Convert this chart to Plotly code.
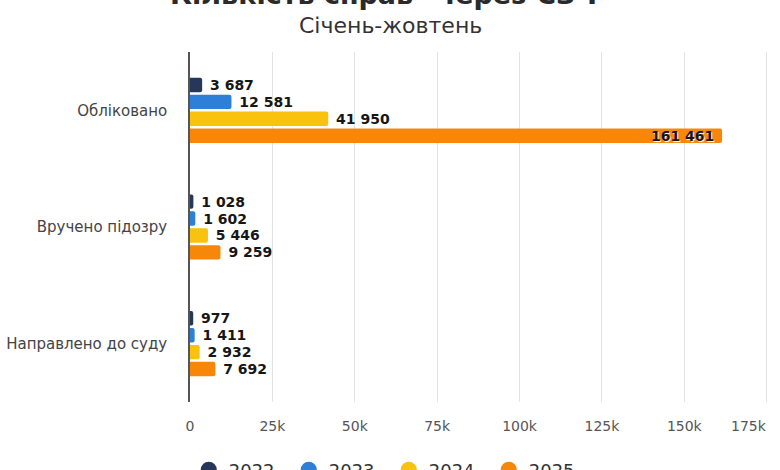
import plotly.graph_objects as go

# categories and series
categories = ["Обліковано", "Вручено підозру", "Направлено до суду"]
years = ["2022", "2023", "2024", "2025"]
values_2022 = [3687, 1028, 977]
values_2023 = [12581, 1602, 1411]
values_2024 = [41950, 5446, 2932]
values_2025 = [161461, 9259, 7692]
x_ticks = [0, 25000, 50000, 75000, 100000, 125000, 150000, 175000]
x_tick_labels = ["0", "25k", "50k", "75k", "100k", "125k", "150k", "175k"]

series = [values_2022, values_2023, values_2024, values_2025]
colors = ["#27375a", "#2d7fd8", "#f9c20e", "#f7870a"]

FONT = "DejaVu Sans"
NBSP = "\u00a0"


def fmt(v):
    return f"{v:,}".replace(",", " ")


fig = go.Figure()

for year, vals, col in zip(years, series, colors):
    # the longest bar keeps its label inside, the rest sit outside
    pos = ["inside" if v > 100000 else "outside" for v in vals]
    txt = [fmt(v) + NBSP if p == "inside" else NBSP + fmt(v) for v, p in zip(vals, pos)]
    fig.add_trace(go.Bar(
        y=categories, x=vals, name=year, orientation="h",
        marker=dict(color=col, line=dict(width=0), cornerradius=2),
        text=txt, textposition=pos,
        insidetextanchor="end", constraintext="none",
        textfont=dict(family=FONT, size=14, color="#161616", weight="bold"),
        insidetextfont=dict(family=FONT, size=14, color="#161616", weight="bold",
                            shadow="1px 1px 1px #ffffff"),
        cliponaxis=False, showlegend=False,
    ))
    # round legend markers
    fig.add_trace(go.Scatter(
        x=[None], y=[None], mode="markers", name=year,
        marker=dict(color=col, size=16, symbol="circle"),
    ))

fig.update_layout(
    width=780, height=470,
    margin=dict(l=190, r=10, t=52, b=68),
    paper_bgcolor="white", plot_bgcolor="white",
    barmode="group", bargap=0.42, bargroupgap=0.15,
    font=dict(family=FONT, color="#444444"),
    showlegend=True,
    legend=dict(
        orientation="h", xref="container", yref="container",
        x=0.242, xanchor="left", y=-0.011, yanchor="middle",
        entrywidth=55, entrywidthmode="pixels",
        font=dict(size=18, color="#333333"), itemsizing="trace",
    ),
    annotations=[
        dict(text="<b>Кількість справ \"через СЗЧ\"</b>", x=0.345, xref="paper",
             y=1.165, yref="paper", showarrow=False,
             font=dict(size=27, color="#2a2a2a"), xanchor="center", yanchor="middle"),
        dict(text="Січень-жовтень", x=0.345, xref="paper",
             y=1.077, yref="paper", showarrow=False,
             font=dict(size=22, color="#333333"), xanchor="center", yanchor="middle"),
        # last tick label sits a little left of its gridline, as in the source
        dict(text=x_tick_labels[-1], x=x_ticks[-1], xref="x",
             y=0, yref="paper", yanchor="top", yshift=-14, xshift=-18,
             showarrow=False, font=dict(size=14, color="#555555")),
    ],
)

fig.update_xaxes(
    range=[0, 176000], tickvals=x_ticks,
    ticktext=x_tick_labels[:-1] + [""],
    automargin=False,
    showgrid=True, gridcolor="#e3e3e3", gridwidth=1,
    zeroline=False, showline=False,
    tickfont=dict(size=14, color="#555555"), ticklabelstandoff=14,
)
fig.update_yaxes(
    autorange="reversed", showgrid=False, automargin=False,
    showline=True, linecolor="#555555", linewidth=1.5,
    tickfont=dict(size=15, color="#444444"), ticklabelstandoff=18,
)

# drop the default page margin so the figure sits at the window's corner
fig.write_html("out.html", config={"displayModeBar": False},
               post_script="document.body.style.margin='0';")
